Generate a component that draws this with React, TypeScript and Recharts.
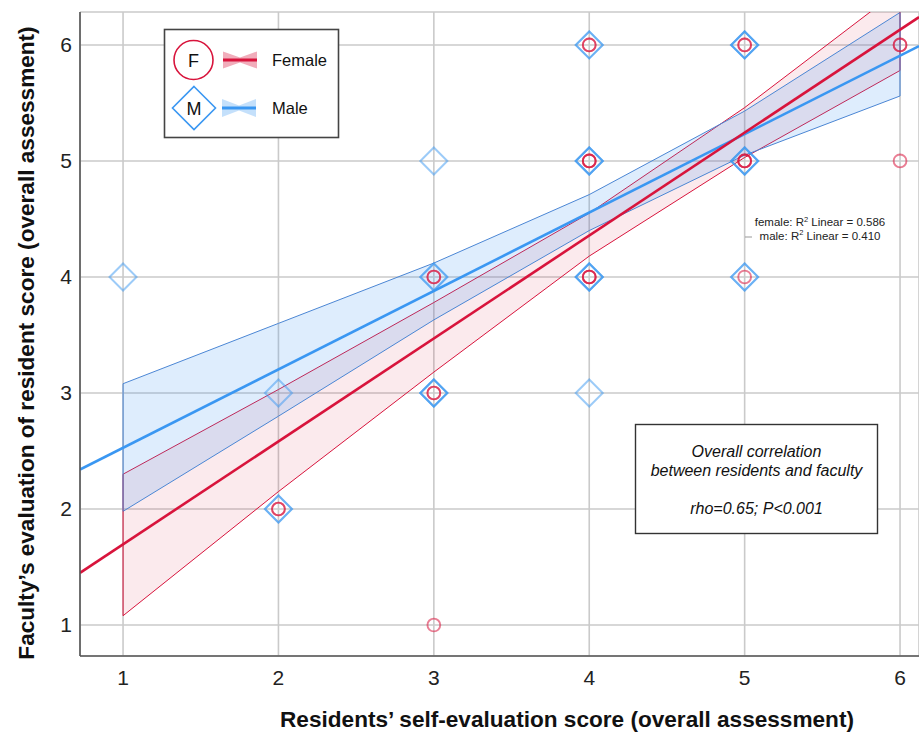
import React from "react";
import {
  ComposedChart,
  XAxis,
  YAxis,
  CartesianGrid,
  Area,
  Line,
  Scatter,
  Label,
} from "recharts";

// ---------- data ----------
const xTicks = [1, 2, 3, 4, 5, 6];
const yTicks = [1, 2, 3, 4, 5, 6];
const xDomain: [number, number] = [0.723, 6.122];
const yDomain: [number, number] = [0.733, 6.284];

// confidence bands (mean) read at x = 1..6
const bandX = [1, 2, 3, 4, 5, 6];
const femaleLower = [1.08, 2.15, 3.18, 4.18, 5.03, 5.78];
const femaleUpper = [2.3, 3.03, 3.78, 4.55, 5.46, 6.48];
const maleLower = [1.98, 2.8, 3.63, 4.4, 5.05, 5.56];
const maleUpper = [3.08, 3.6, 4.12, 4.71, 5.43, 6.28];

// fit lines read at the plot edges
const fitX = [0.723, 6.122];
const femaleFit = [1.45, 6.24];
const maleFit = [2.34, 5.99];

// observations (repeated pairs = several residents with the same scores)
const femalePoints: [number, number][] = [
  [2, 2], [2, 2],
  [3, 4], [3, 4],
  [3, 3], [3, 3],
  [3, 1],
  [4, 6], [4, 6],
  [4, 5], [4, 5], [4, 5],
  [4, 4], [4, 4], [4, 4],
  [5, 6], [5, 6],
  [5, 5], [5, 5], [5, 5],
  [5, 4],
  [6, 6], [6, 6],
  [6, 5],
];
const malePoints: [number, number][] = [
  [1, 4],
  [2, 3],
  [2, 2], [2, 2],
  [3, 5],
  [3, 4], [3, 4],
  [3, 3], [3, 3], [3, 3],
  [4, 6], [4, 6],
  [4, 5], [4, 5], [4, 5],
  [4, 4], [4, 4], [4, 4],
  [4, 3],
  [5, 6], [5, 6], [5, 6],
  [5, 5], [5, 5], [5, 5],
  [5, 4], [5, 4],
];

const seriesNames = ["Female", "Male"];
const r2Labels = ["female: R", "male: R"];
const r2Values = ["0.586", "0.410"];
const noteLines = ["Overall correlation", "between residents and faculty", "", "rho=0.65; P<0.001"];
const xTitle = "Residents\u2019 self-evaluation score (overall assessment)";
const yTitle = "Faculty\u2019s evaluation of resident score (overall assessment)";

// ---------- derived tables ----------
const bandData = bandX.map((x, i) => ({
  x,
  fBand: [femaleLower[i], femaleUpper[i]],
  mBand: [maleLower[i], maleUpper[i]],
}));
const femaleFitData = fitX.map((x, i) => ({ x, y: femaleFit[i] }));
const maleFitData = fitX.map((x, i) => ({ x, y: maleFit[i] }));
const last = bandX.length - 1;
const femaleEndL = [{ x: bandX[0], y: femaleLower[0] }, { x: bandX[0], y: femaleUpper[0] }];
const femaleEndR = [{ x: bandX[last], y: femaleLower[last] }, { x: bandX[last], y: femaleUpper[last] }];
const maleEndL = [{ x: bandX[0], y: maleLower[0] }, { x: bandX[0], y: maleUpper[0] }];
const maleEndR = [{ x: bandX[last], y: maleLower[last] }, { x: bandX[last], y: maleUpper[last] }];
const femaleScatter = femalePoints.map(([x, y]) => ({ x, y }));
const maleScatter = malePoints.map(([x, y]) => ({ x, y }));

// ---------- styles ----------
const RED = "#d8143c";
const BLUE = "#3a97f2";
const BLUE_EDGE = "#4b86d4";
const FONT = "'Liberation Sans', Arial, Helvetica, sans-serif";

const Circle = (props: any) => {
  const { cx, cy } = props;
  if (cx == null || cy == null) return null;
  return <circle cx={cx} cy={cy} r={6.4} fill="none" stroke={RED} strokeWidth={1.9} strokeOpacity={0.55} />;
};
const Diamond = (props: any) => {
  const { cx, cy } = props;
  if (cx == null || cy == null) return null;
  const h = 13.5;
  return (
    <path
      d={`M${cx},${cy - h} L${cx + h},${cy} L${cx},${cy + h} L${cx - h},${cy} Z`}
      fill="none"
      stroke={BLUE}
      strokeWidth={2}
      strokeOpacity={0.5}
    />
  );
};

export default function App() {
  return (
    <div
      style={{
        position: "fixed",
        left: 0,
        top: 0,
        width: 919,
        height: 734,
        overflow: "hidden",
        background: "#fff",
        fontFamily: FONT,
      }}
    >
      <ComposedChart
        width={919}
        height={734}
        data={bandData}
        margin={{ top: 12, right: 0, bottom: 0, left: 0 }}
      >
        <CartesianGrid stroke="#cacaca" strokeWidth={1.6} />
        <XAxis
          type="number"
          dataKey="x"
          domain={xDomain}
          ticks={xTicks}
          allowDataOverflow
          height={78}
          tickLine={false}
          tickSize={0}
          tickMargin={14}
          axisLine={{ stroke: "#555", strokeWidth: 1.6 }}
          tick={{ fontSize: 21, fill: "#222", fontFamily: FONT }}
        >
          <Label
            content={() => (
              <text
                x={567}
                y={727}
                textAnchor="middle"
                fontSize={22.6}
                fontWeight="bold"
                fill="#111"
                fontFamily={FONT}
              >
                {xTitle}
              </text>
            )}
          />
        </XAxis>
        <YAxis
          type="number"
          domain={yDomain}
          ticks={yTicks}
          allowDataOverflow
          width={80}
          tickLine={false}
          tickSize={0}
          tickMargin={8}
          axisLine={{ stroke: "#555", strokeWidth: 1.6 }}
          tick={{ fontSize: 21, fill: "#222", fontFamily: FONT }}
        >
          <Label
            content={() => (
              <text
                x={0}
                y={0}
                transform="translate(34,343) rotate(-90)"
                textAnchor="middle"
                fontSize={22.6}
                fontWeight="bold"
                fill="#111"
                fontFamily={FONT}
              >
                {yTitle}
              </text>
            )}
          />
        </YAxis>

        <Area
          type="linear"
          dataKey="fBand"
          fill={RED}
          fillOpacity={0.09}
          stroke={RED}
          strokeWidth={1}
          isAnimationActive={false}
          dot={false}
          activeDot={false}
        />
        <Area
          type="linear"
          dataKey="mBand"
          fill={BLUE}
          fillOpacity={0.17}
          stroke={BLUE_EDGE}
          strokeWidth={1}
          isAnimationActive={false}
          dot={false}
          activeDot={false}
        />
        <Line data={femaleEndL} dataKey="y" stroke={RED} strokeWidth={1} dot={false} activeDot={false} isAnimationActive={false} />
        <Line data={femaleEndR} dataKey="y" stroke={RED} strokeWidth={1} dot={false} activeDot={false} isAnimationActive={false} />
        <Line data={maleEndL} dataKey="y" stroke={BLUE_EDGE} strokeWidth={1} dot={false} activeDot={false} isAnimationActive={false} />
        <Line data={maleEndR} dataKey="y" stroke={BLUE_EDGE} strokeWidth={1} dot={false} activeDot={false} isAnimationActive={false} />

        <Line data={maleFitData} dataKey="y" stroke={BLUE} strokeWidth={2.6} dot={false} activeDot={false} isAnimationActive={false} />
        <Line data={femaleFitData} dataKey="y" stroke={RED} strokeWidth={2.6} dot={false} activeDot={false} isAnimationActive={false} />

        <Scatter data={maleScatter} dataKey="y" shape={<Diamond />} isAnimationActive={false} />
        <Scatter data={femaleScatter} dataKey="y" shape={<Circle />} isAnimationActive={false} />
      </ComposedChart>

      <svg
        width={919}
        height={734}
        style={{ position: "absolute", left: 0, top: 0, pointerEvents: "none" }}
        fontFamily={FONT}
      >
        {/* legend */}
        <rect x={164.5} y={29.5} width={174} height={108} fill="#fff" stroke="#444" strokeWidth={1.6} />
        <circle cx={193.5} cy={60} r={19.5} fill="#fff" stroke={RED} strokeWidth={1.6} />
        <text x={193.5} y={66.5} textAnchor="middle" fontSize={18} fill="#111">F</text>
        <path d="M194,86.5 L215.5,108 L194,129.5 L172.5,108 Z" fill="#fff" stroke={BLUE} strokeWidth={1.6} />
        <text x={194} y={114.5} textAnchor="middle" fontSize={18} fill="#111">M</text>
        <polygon points="223,51.5 240,57.5 257,51.5 257,68.5 240,62.5 223,68.5" fill={RED} fillOpacity={0.35} />
        <line x1={223} y1={60} x2={257} y2={60} stroke={RED} strokeWidth={3} />
        <polygon points="222,99 239,105.5 256,99 256,117 239,110.5 222,117" fill={BLUE} fillOpacity={0.3} />
        <line x1={222} y1={108} x2={256} y2={108} stroke={BLUE} strokeWidth={3} />
        <text x={272} y={66} fontSize={16.5} fill="#111">{seriesNames[0]}</text>
        <text x={272} y={114} fontSize={16.5} fill="#111">{seriesNames[1]}</text>

        {/* R squared note */}
        {r2Labels.map((lab, i) => (
          <text key={lab} x={820} y={226 + i * 13.5} textAnchor="middle" fontSize={11.5} fill="#222">
            {lab}
            <tspan dy={-4.5} fontSize={7.5}>2</tspan>
            <tspan dy={4.5}>{` Linear = ${r2Values[i]}`}</tspan>
          </text>
        ))}
        <line x1={745} y1={237} x2={752} y2={237} stroke="#999" strokeWidth={1} />

        {/* correlation box */}
        <rect x={635.5} y={424.5} width={242} height={109} fill="#fff" stroke="#333" strokeWidth={1.4} />
        {noteLines.map((t, i) =>
          t ? (
            <text key={i} x={756.5} y={457 + i * 19} textAnchor="middle" fontSize={16} fontStyle="italic" fill="#111">
              {t}
            </text>
          ) : null
        )}
      </svg>
    </div>
  );
}
